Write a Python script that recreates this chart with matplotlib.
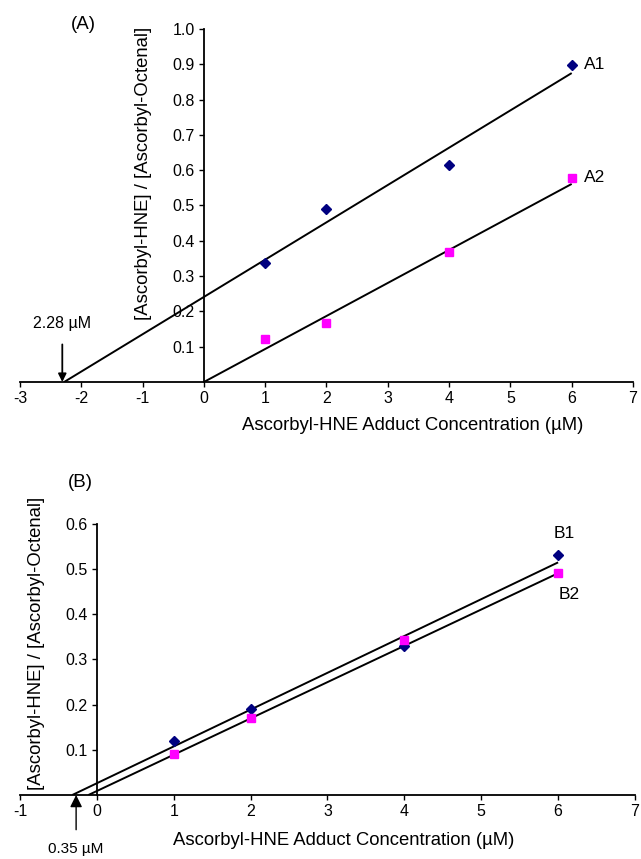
import matplotlib.pyplot as plt

plt.rcParams['font.family'] = ['Liberation Sans', 'DejaVu Sans']
plt.rcParams['axes.unicode_minus'] = False

# panel A data
a_conc = [1, 2, 4, 6]
a1_ratio = [0.337, 0.49, 0.615, 0.898]
a2_ratio = [0.122, 0.167, 0.368, 0.578]
a1_fit_x = [-2.28, 6]
a1_fit_y = [0.0, 0.875]
a2_fit_x = [0, 6]
a2_fit_y = [0.0, 0.561]

# panel B data
b_conc = [1, 2, 4, 6]
b1_ratio = [0.119, 0.19, 0.33, 0.531]
b2_ratio = [0.091, 0.17, 0.343, 0.491]
b1_fit_x = [-0.32, 6]
b1_fit_y = [0.0, 0.515]
b2_fit_x = [-0.11, 6]
b2_fit_y = [0.0, 0.491]

a_xticks = list(range(-3, 8))
a_yticks = [0.1, 0.2, 0.3, 0.4, 0.5, 0.6, 0.7, 0.8, 0.9, 1.0]
b_xticks = list(range(-1, 8))
b_yticks = [0.1, 0.2, 0.3, 0.4, 0.5, 0.6]

navy = '#000080'
magenta = '#ff00ff'
xlab = 'Ascorbyl-HNE Adduct Concentration (\u00b5M)'
ylab = '[Ascorbyl-HNE] / [Ascorbyl-Octenal]'


def _style_axes(ax, xlim, ylim, xticks, yticks):
    ax.set_xlim(*xlim)
    ax.set_ylim(*ylim)
    ax.spines['top'].set_visible(False)
    ax.spines['right'].set_visible(False)
    ax.spines['left'].set_position(('data', 0))
    ax.spines['bottom'].set_position(('data', 0))
    for s in ('left', 'bottom'):
        ax.spines[s].set_linewidth(1.3)
    ax.set_xticks(xticks)
    ax.set_xticklabels([str(t) for t in xticks])
    ax.set_yticks(yticks)
    ax.set_yticklabels(['%.1f' % t for t in yticks])
    ax.tick_params(direction='out', length=3.5, width=1, labelsize=11.5, pad=3)
    ax.patch.set_visible(False)


fig = plt.figure(figsize=(6.41, 8.59), dpi=100)

# (A)
ax = fig.add_axes([0.0312, 0.5553, 0.9563, 0.411])
_style_axes(ax, (-3, 7), (0, 1.0), a_xticks, a_yticks)
ax.plot(a1_fit_x, a1_fit_y, color='black', lw=1.4, solid_capstyle='butt')
ax.plot(a2_fit_x, a2_fit_y, color='black', lw=1.4, solid_capstyle='butt')
ax.plot(a_conc, a1_ratio, 'D', color=navy, ms=5, zorder=3)
ax.plot(a_conc, a2_ratio, 's', color=magenta, ms=5.5, zorder=3)
ax.text(6.2, 0.898, 'A1', fontsize=12.5, va='center')
ax.text(6.2, 0.578, 'A2', fontsize=12.5, va='center')
ax.annotate('2.28 \u00b5M', xy=(-2.31, 0.0), xytext=(-2.31, 0.167),
            ha='center', va='center', fontsize=11.5,
            arrowprops=dict(arrowstyle='-|>', color='black', lw=1.3,
                            mutation_scale=12, shrinkA=8, shrinkB=0))
ax.set_xlabel(xlab, fontsize=13.3)
ax.xaxis.set_label_coords(0.64, -0.099)
ax.set_ylabel(ylab, fontsize=13.3)
ax.yaxis.set_label_coords(0.216, 0.59)
fig.text(0.13, 0.971, '(A)', fontsize=13.5, ha='center', va='center')

# (B)
bx = fig.add_axes([0.0312, 0.0745, 0.9594, 0.3155])
_style_axes(bx, (-1, 7), (0, 0.6), b_xticks, b_yticks)
bx.plot(b1_fit_x, b1_fit_y, color='black', lw=1.4, solid_capstyle='butt')
bx.plot(b2_fit_x, b2_fit_y, color='black', lw=1.4, solid_capstyle='butt')
bx.plot(b_conc, b1_ratio, 'D', color=navy, ms=5, zorder=3)
bx.plot(b_conc, b2_ratio, 's', color=magenta, ms=5.5, zorder=3)
bx.text(6.08, 0.578, 'B1', fontsize=12.5, ha='center', va='center')
bx.text(6.14, 0.443, 'B2', fontsize=12.5, ha='center', va='center')
bx.annotate('0.35 \u00b5M', xy=(-0.27, 0.0), xytext=(-0.27, -0.12),
            ha='center', va='center', fontsize=11, annotation_clip=False,
            arrowprops=dict(arrowstyle='-|>', color='black', lw=1.0,
                            mutation_scale=18, shrinkA=7, shrinkB=0))
bx.set_xlabel(xlab, fontsize=13.3)
bx.xaxis.set_label_coords(0.527, -0.137)
bx.set_ylabel(ylab, fontsize=13.3)
bx.yaxis.set_label_coords(0.041, 0.56)
fig.text(0.125, 0.438, '(B)', fontsize=13.5, ha='center', va='center')

fig.savefig('out.png', dpi=100)
